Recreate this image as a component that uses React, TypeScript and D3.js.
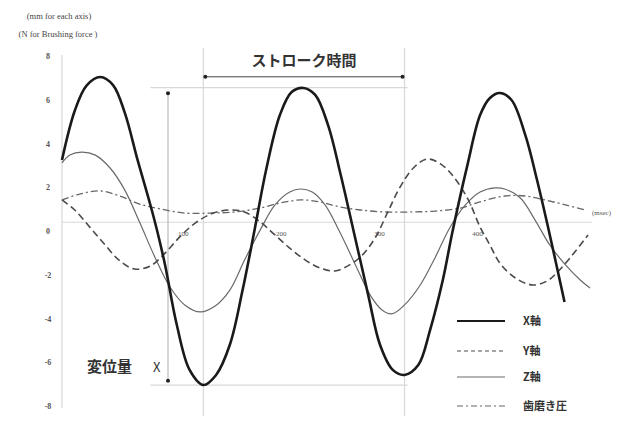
import { useEffect, useRef } from "react";
import * as d3 from "d3";

// time in msec, values in mm (axes) or N (brushing force)
const xAxisData: [number, number][] = [
  [0, 3.25], [13, 5.5], [25, 6.65], [39, 7.04], [52, 6.67], [64, 5.4], [77, 3.25],
  [90, 1.2], [97, 0], [105, -1.55], [117, -4.3], [130, -6.35], [144, -7.04],
  [157, -6.58], [171, -5.2], [184, -2.7], [196, 0], [208, 2.8], [222, 5.3],
  [234, 6.35], [246, 6.54], [258, 6.22], [271, 4.85], [284, 2.56], [298, -0.18],
  [312, -2.93], [324, -5.2], [337, -6.35], [349, -6.58], [363, -6.13], [375, -4.53],
  [388, -2.24], [398, 0], [413, 3.0], [426, 5.3], [436, 6.08], [446, 6.31],
  [458, 5.99], [472, 4.39], [484, 2.33], [497, -0.18], [512, -3.25],
];

const yAxisData: [number, number][] = [
  [0, 1.42], [13, 0.96], [29, 0.14], [44, -0.64], [59, -1.37], [74, -1.74],
  [90, -1.6], [105, -1.01], [120, -0.27], [136, 0.37], [154, 0.82], [171, 0.96],
  [186, 0.87], [202, 0.41], [217, -0.18], [232, -0.78], [248, -1.33], [263, -1.69],
  [278, -1.83], [293, -1.55], [306, -1.1], [319, -0.32], [332, 0.87], [344, 1.97],
  [358, 2.88], [372, 3.29], [386, 3.06], [400, 2.42], [414, 1.42], [426, 0.18],
  [436, -0.64], [446, -1.46], [462, -2.15], [480, -2.47], [494, -2.29],
  [504, -1.92], [520, -1.1], [536, -0.18],
];

const zAxisData: [number, number][] = [
  [0, 3.11], [8, 3.47], [20, 3.61], [34, 3.47], [49, 2.88], [64, 1.87], [79, 0.41],
  [95, -1.23], [110, -2.56], [125, -3.38], [141, -3.7], [156, -3.43], [171, -2.7],
  [186, -1.33], [202, 0.05], [217, 1.19], [232, 1.78], [243, 1.92], [255, 1.78],
  [268, 1.19], [283, -0.05], [299, -1.55], [314, -2.93], [326, -3.61], [336, -3.79],
  [349, -3.38], [365, -2.47], [380, -1.23], [395, 0.14], [411, 1.19], [426, 1.78],
  [441, 1.97], [451, 1.92], [467, 1.51], [482, 0.5], [497, -0.64], [513, -1.55],
  [528, -2.24], [538, -2.61],
];

const forceData: [number, number][] = [
  [0, 1.42], [18, 1.69], [39, 1.83], [59, 1.6], [79, 1.23], [100, 1.01], [125, 0.82],
  [151, 0.82], [176, 0.87], [202, 1.05], [222, 1.28], [243, 1.42], [263, 1.33],
  [283, 1.1], [304, 0.96], [329, 0.87], [355, 0.87], [380, 0.91], [406, 1.05],
  [426, 1.33], [451, 1.6], [472, 1.6], [492, 1.42], [513, 1.19], [533, 0.96],
];

const valueTicks = [8, 6, 4, 2, 0, -2, -4, -6, -8];
const timeTicks = [100, 200, 300, 400];
const strokeTimes = [144, 349]; // X troughs, one stroke apart
const strokeArrowTimes = [146, 347];
const strokeArrowLevel = 7.05;
const ampTime = 108;
const ampLevels = [6.55, -7.05];
const legendLabels = ["X軸", "Y軸", "Z軸", "歯磨き圧"];

const W = 620;
const H = 421;

export default function App() {
  const svgRef = useRef(null);

  useEffect(() => {
    document.body.style.margin = "0";
    const svg = d3.select(svgRef.current);
    svg.selectAll("*").remove();

    const x = d3.scaleLinear().domain([0, 540]).range([62, 592]);
    const y = d3.scaleLinear().domain([-8, 8]).range([406, 56]);

    const serif = "'Liberation Serif', 'DejaVu Serif', serif";
    const jp = "'Noto Sans CJK JP', sans-serif";
    const grid = "#d8d8d8";

    // unit captions
    svg.append("text").attr("x", 59).attr("y", 19).attr("text-anchor", "middle")
      .attr("font-family", serif).attr("font-size", 8.5).attr("fill", "#444")
      .text("(mm for each axis)");
    svg.append("text").attr("x", 58).attr("y", 37).attr("text-anchor", "middle")
      .attr("font-family", serif).attr("font-size", 8.5).attr("fill", "#444")
      .text("(N for Brushing force )");

    // axes
    svg.append("line").attr("x1", x(0)).attr("x2", x(0))
      .attr("y1", y(8) - 1).attr("y2", y(-8) + 2)
      .attr("stroke", grid).attr("stroke-width", 1.2);
    const baseY = y(0.4);
    svg.append("line").attr("x1", x(0)).attr("x2", x(540))
      .attr("y1", baseY).attr("y2", baseY)
      .attr("stroke", grid).attr("stroke-width", 1.2);

    svg.append("g").selectAll("text").data(valueTicks).join("text")
      .attr("x", 48).attr("y", (d) => y(d) + 3)
      .attr("text-anchor", "middle")
      .attr("font-family", serif).attr("font-size", 8).attr("font-weight", "bold")
      .attr("fill", "#555").text((d) => d);

    svg.append("g").selectAll("text").data(timeTicks).join("text")
      .attr("x", (d) => x(d) + 23).attr("y", baseY + 14)
      .attr("text-anchor", "middle")
      .attr("font-family", serif).attr("font-size", 7).attr("fill", "#555")
      .text((d) => d);

    svg.append("text").attr("x", x(540)).attr("y", baseY - 7)
      .attr("font-family", serif).attr("font-size", 7).attr("fill", "#555")
      .text("(msec)");

    // stroke guides
    svg.append("g").selectAll("line").data(strokeTimes).join("line")
      .attr("x1", (d) => x(d)).attr("x2", (d) => x(d))
      .attr("y1", y(8) - 8).attr("y2", y(-8) + 10)
      .attr("stroke", grid).attr("stroke-width", 1.2);

    svg.append("line")
      .attr("x1", x(strokeArrowTimes[0])).attr("x2", x(strokeArrowTimes[1]))
      .attr("y1", y(strokeArrowLevel)).attr("y2", y(strokeArrowLevel))
      .attr("stroke", "#444").attr("stroke-width", 1);
    svg.append("g").selectAll("circle").data(strokeArrowTimes).join("circle")
      .attr("cx", (d) => x(d)).attr("cy", y(strokeArrowLevel)).attr("r", 2)
      .attr("fill", "#222");
    svg.append("text")
      .attr("x", (x(strokeArrowTimes[0]) + x(strokeArrowTimes[1])) / 2)
      .attr("y", y(strokeArrowLevel) - 11)
      .attr("text-anchor", "middle")
      .attr("font-family", jp).attr("font-size", 15).attr("font-weight", "bold")
      .attr("fill", "#333").text("ストローク時間");

    // displacement guides
    svg.append("g").selectAll("line").data(ampLevels).join("line")
      .attr("x1", x(90)).attr("x2", x(352))
      .attr("y1", (d) => y(d)).attr("y2", (d) => y(d))
      .attr("stroke", grid).attr("stroke-width", 1.2);
    svg.append("line").attr("x1", x(ampTime)).attr("x2", x(ampTime))
      .attr("y1", y(ampLevels[0]) + 5).attr("y2", y(ampLevels[1]) - 4)
      .attr("stroke", "#bbb").attr("stroke-width", 1.2);
    svg.append("g").selectAll("circle").data([ampLevels[0] - 0.25, ampLevels[1] + 0.2]).join("circle")
      .attr("cx", x(ampTime)).attr("cy", (d) => y(d)).attr("r", 2)
      .attr("fill", "#222");
    svg.append("text").attr("x", x(ampTime) - 81).attr("y", y(ampLevels[1]) - 13)
      .attr("font-family", jp).attr("font-size", 15).attr("font-weight", "bold")
      .attr("fill", "#333").text("変位量");
    svg.append("text").attr("x", x(ampTime) - 15).attr("y", y(ampLevels[1]) - 13)
      .attr("font-family", jp).attr("font-size", 13)
      .attr("fill", "#333").text("X");

    // series
    const series = [
      { data: xAxisData, color: "#1a1a1a", width: 2.6, dash: null, legendDash: null },
      { data: yAxisData, color: "#4a4a4a", width: 1.6, dash: "7,4", legendDash: "4,3" },
      { data: zAxisData, color: "#6a6a6a", width: 1.2, dash: null, legendDash: null },
      { data: forceData, color: "#666", width: 1.3, dash: "7,3,2,3", legendDash: "6,3,2,3" },
    ];

    const line = d3.line<[number, number]>()
      .x((d) => x(d[0])).y((d) => y(d[1]))
      .curve(d3.curveCatmullRom.alpha(0.5));

    // draw thin ones first so the bold X axis stays on top
    [3, 2, 1, 0].forEach((i) => {
      const s = series[i];
      svg.append("path").attr("d", line(s.data)).attr("fill", "none")
        .attr("stroke", s.color).attr("stroke-width", s.width)
        .attr("stroke-dasharray", s.dash)
        .attr("stroke-linejoin", "round");
    });

    // legend
    const lg = svg.append("g");
    const rowY = [321, 351, 377, 406];
    series.forEach((s, i) => {
      lg.append("line").attr("x1", 457).attr("x2", 505)
        .attr("y1", rowY[i]).attr("y2", rowY[i])
        .attr("stroke", i === 1 ? "#888" : s.color)
        .attr("stroke-width", i === 0 ? 2 : i === 1 ? 1.5 : 1.1)
        .attr("stroke-dasharray", s.legendDash);
      lg.append("text").attr("x", 523).attr("y", rowY[i] + 4)
        .attr("font-family", jp).attr("font-size", 11).attr("font-weight", "bold")
        .attr("fill", "#333").text(legendLabels[i]);
    });
  }, []);

  return <svg ref={svgRef} width={W} height={H} style={{ display: "block", background: "#fff" }} />;
}
